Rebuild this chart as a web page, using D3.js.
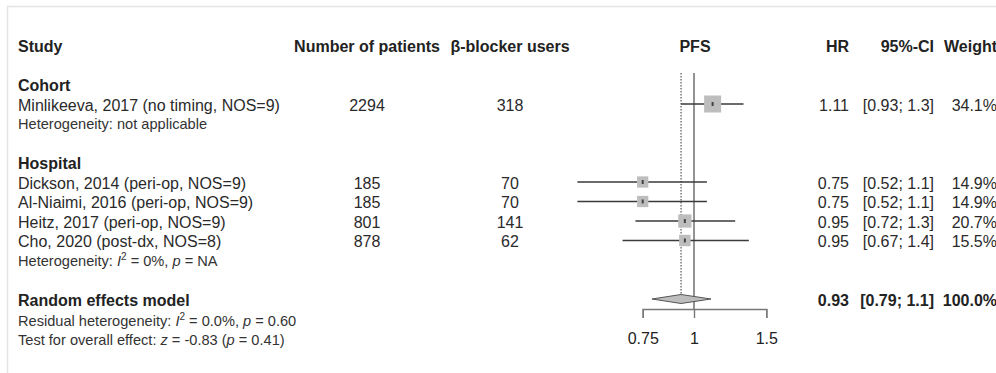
<!DOCTYPE html>
<html>
<head>
<meta charset="utf-8">
<script src="https://cdn.jsdelivr.net/npm/d3@7"></script>
<style>
  html, body { margin: 0; padding: 0; background: #fff; }
  svg { display: block; font-family: "Liberation Sans", Arial, Helvetica, sans-serif; }
  .axis path, .axis line { stroke: #777; stroke-width: 1.4; }
  .axis text { font-size: 16px; fill: #222; font-family: "Liberation Sans", Arial, sans-serif; }
</style>
</head>
<body>
<svg id="chart" width="996" height="373"></svg>
<script>
// Study-level data (PFS, beta-blocker use)
const studies   = ["Minlikeeva, 2017 (no timing, NOS=9)", "Dickson, 2014 (peri-op, NOS=9)",
                   "Al-Niaimi, 2016 (peri-op, NOS=9)", "Heitz, 2017 (peri-op, NOS=9)",
                   "Cho, 2020 (post-dx, NOS=8)"];
const subgroup  = ["Cohort", "Hospital", "Hospital", "Hospital", "Hospital"];
const patients  = [2294, 185, 185, 801, 878];
const users     = [318, 70, 70, 141, 62];
const hr        = [1.11, 0.75, 0.75, 0.95, 0.95];
const lower     = [0.93, 0.52, 0.52, 0.72, 0.67];
const upper     = [1.32, 1.075, 1.075, 1.26, 1.36];
const weight    = [34.1, 14.9, 14.9, 20.7, 15.5];

// Pooled random-effects estimate
const pooledHR = 0.93, pooledLower = 0.79, pooledUpper = 1.1, pooledWeight = 100.0;

// Axis
const axisTicks = [0.75, 1, 1.5];

// Row index of each line of the table
const studyRows  = [3, 7, 8, 9, 10];
const groupRows  = [{ name: "Cohort", row: 2, het: 4, hetText: "plain" },
                    { name: "Hospital", row: 6, het: 11, hetText: "i2" }];
const pooledRow = 13;

const svg = d3.select("#chart");
const W = 996, H = 373;

const rowY = d3.scaleLinear().domain([0, 15]).range([52, 52 + 15 * 19.5]);
const x = d3.scaleLog().domain([0.75, 1.5]).range([642.7, 766.3]);
const boxSide = d3.scaleSqrt().domain([0, 34.1]).range([0, 17]);
const markY = r => rowY(r) - 6.5;

const col = { study: 18, n: 367, users: 510, plot: 695, hr: 849, ci: 934, w: 997 };
const fmtHR = d3.format(".2f"), fmtCI = d3.format(".2~g"), fmtW = d3.format(".1f");
const ciText = (l, u) => `[${fmtCI(l)}; ${fmtCI(u)}]`;
const smallSize = 14.6;

// frame
svg.append("path").attr("d", `M7.5,${H + 2}V6.5H${W + 2}`)
  .attr("fill", "none").attr("stroke", "#e4e4e4").attr("stroke-width", 1.5);

function txt(xp, y, s, opts = {}) {
  return svg.append("text").attr("x", xp).attr("y", y).text(s)
    .attr("font-size", opts.size || 16)
    .attr("font-weight", opts.bold ? "bold" : "normal")
    .attr("text-anchor", opts.anchor || "start")
    .attr("fill", opts.fill || "#222");
}

// header
const hy = rowY(0);
txt(col.study, hy, "Study", { bold: true });
txt(col.n, hy, "Number of patients", { bold: true, anchor: "middle" });
txt(col.users, hy, "β-blocker users", { bold: true, anchor: "middle" });
txt(col.plot, hy, "PFS", { bold: true, anchor: "middle" });
txt(col.hr, hy, "HR", { bold: true, anchor: "end" });
txt(col.ci, hy, "95%-CI", { bold: true, anchor: "end" });
txt(col.w, hy, "Weight", { bold: true, anchor: "end" });

// subgroup headings and heterogeneity lines
groupRows.forEach(g => {
  txt(col.study, rowY(g.row), g.name, { bold: true });
  const t = svg.append("text").attr("x", col.study).attr("y", rowY(g.het) - 1)
    .attr("font-size", smallSize).attr("fill", "#333");
  if (g.hetText === "plain") {
    t.text("Heterogeneity: not applicable");
  } else {
    t.append("tspan").text("Heterogeneity: ");
    t.append("tspan").attr("font-style", "italic").text("I");
    t.append("tspan").attr("font-size", 10).attr("dy", -6).text("2");
    t.append("tspan").attr("dy", 6).text(" = 0%, ");
    t.append("tspan").attr("font-style", "italic").text("p");
    t.append("tspan").text(" = NA");
  }
});

// reference lines
const lineTop = rowY(2) - 18;
svg.append("line").attr("x1", x(1)).attr("x2", x(1))
  .attr("y1", lineTop).attr("y2", rowY(pooledRow) + 4)
  .attr("stroke", "#888").attr("stroke-width", 1.8);
svg.append("line").attr("x1", x(pooledHR)).attr("x2", x(pooledHR))
  .attr("y1", lineTop).attr("y2", markY(pooledRow) - 3)
  .attr("stroke", "#444").attr("stroke-width", 1.1).attr("stroke-dasharray", "1.5,1.5");

// study rows
studies.forEach((s, i) => {
  const r = studyRows[i], y = rowY(r), my = markY(r);
  txt(col.study, y, s, { fill: "#2a2a2a" });
  txt(col.n, y, patients[i], { anchor: "middle", fill: "#2a2a2a" });
  txt(col.users, y, users[i], { anchor: "middle", fill: "#2a2a2a" });
  txt(col.hr, y, fmtHR(hr[i]), { anchor: "end", fill: "#2a2a2a" });
  txt(col.ci, y, ciText(lower[i], upper[i]), { anchor: "end", fill: "#2a2a2a" });
  txt(col.w, y, fmtW(weight[i]) + "%", { anchor: "end", fill: "#2a2a2a" });

  svg.append("line").attr("x1", x(lower[i])).attr("x2", x(upper[i]))
    .attr("y1", my).attr("y2", my).attr("stroke", "#3a3a3a").attr("stroke-width", 1.4);
  const b = boxSide(weight[i]);
  svg.append("rect").attr("x", x(hr[i]) - b / 2).attr("y", my - b / 2)
    .attr("width", b).attr("height", b).attr("fill", "#bdbdbd");
  svg.append("rect").attr("x", x(hr[i]) - 1).attr("y", my - 2)
    .attr("width", 2).attr("height", 4).attr("fill", "#444");
});

// pooled estimate
const py = rowY(pooledRow), pmy = markY(pooledRow);
txt(col.study, py, "Random effects model", { bold: true });
txt(col.hr, py, fmtHR(pooledHR), { bold: true, anchor: "end" });
txt(col.ci, py, ciText(pooledLower, pooledUpper), { bold: true, anchor: "end" });
txt(col.w, py, fmtW(pooledWeight) + "%", { bold: true, anchor: "end" });
svg.append("path")
  .attr("d", `M${x(pooledLower)},${pmy}L${x(pooledHR)},${pmy - 4.5}L${x(pooledUpper)},${pmy}L${x(pooledHR)},${pmy + 4.5}Z`)
  .attr("fill", "#bdbdbd").attr("stroke", "#555").attr("stroke-width", 1);

// residual heterogeneity & overall test
const r1 = svg.append("text").attr("x", col.study).attr("y", rowY(14) + 1).attr("font-size", smallSize).attr("fill", "#333");
r1.append("tspan").text("Residual heterogeneity: ");
r1.append("tspan").attr("font-style", "italic").text("I");
r1.append("tspan").attr("font-size", 10).attr("dy", -6).text("2");
r1.append("tspan").attr("dy", 6).text(" = 0.0%, ");
r1.append("tspan").attr("font-style", "italic").text("p");
r1.append("tspan").text(" = 0.60");

const r2 = svg.append("text").attr("x", col.study).attr("y", rowY(15)).attr("font-size", smallSize).attr("fill", "#333");
r2.append("tspan").text("Test for overall effect: ");
r2.append("tspan").attr("font-style", "italic").text("z");
r2.append("tspan").text(" = -0.83 (");
r2.append("tspan").attr("font-style", "italic").text("p");
r2.append("tspan").text(" = 0.41)");

// x axis
const axisY = 309;
svg.append("g").attr("class", "axis").attr("transform", `translate(0,${axisY})`)
  .call(d3.axisBottom(x).tickValues(axisTicks).tickFormat(d3.format("~g"))
    .tickSize(9).tickSizeOuter(9).tickPadding(15))
  .call(g => g.selectAll("text").attr("fill", "#222"));
</script>
</body>
</html>
